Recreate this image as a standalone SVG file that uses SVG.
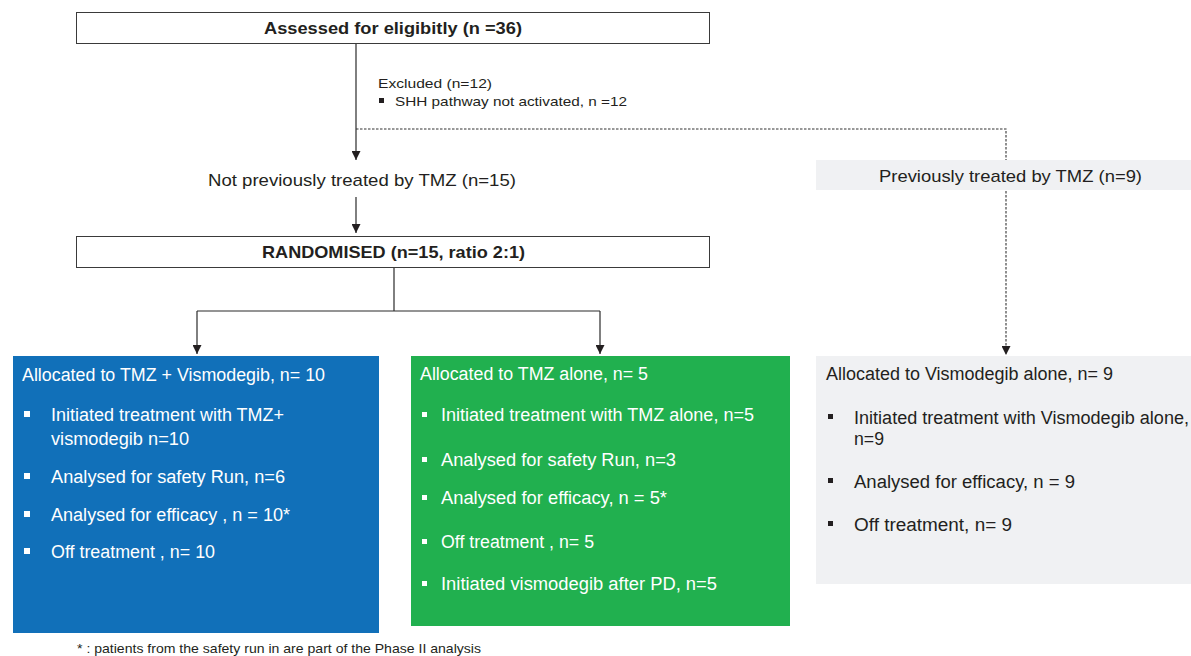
<svg xmlns="http://www.w3.org/2000/svg" width="1191" height="656" viewBox="0 0 1191 656">
<style>
text{font-family:"Liberation Sans",Arial,sans-serif;fill:#231f20}
.b{font-weight:bold;font-size:17px}
.m{font-size:17px}
.s{font-size:13.5px}
.w{fill:#ffffff;font-size:18px}
.g{font-size:18px}
.box{fill:#fff;stroke:#3a3a3a;stroke-width:1}
.ln{fill:none;stroke:#2a2a2a;stroke-width:1.2}
.dl{fill:none;stroke:#333;stroke-width:1.1;stroke-dasharray:2.5 1.5}
.bw{fill:#fff}
.bk{fill:#231f20}
</style>
<defs>
<marker id="ah" viewBox="0 0 10 10" refX="10" refY="5" markerWidth="9" markerHeight="9" markerUnits="userSpaceOnUse" orient="auto">
<path d="M0,0 L10,5 L0,10 z" fill="#231f20"/>
</marker>
</defs>
<g id="connectors">
<path class="ln" d="M356,43 V160" marker-end="url(#ah)"/>
<path class="dl" d="M356,129 H1006 V355" marker-end="url(#ah)"/>
<path class="ln" d="M356,197 V233" marker-end="url(#ah)"/>
<path class="ln" d="M394,267 V311"/>
<path class="ln" d="M197,311 H600"/>
<path class="ln" d="M197,311 V354" marker-end="url(#ah)"/>
<path class="ln" d="M600,311 V354" marker-end="url(#ah)"/>
</g>
<g id="assessed">
<rect class="box" x="76.5" y="12.5" width="633" height="31"/>
<text class="b" x="264" y="34" textLength="258" lengthAdjust="spacingAndGlyphs">Assessed for eligibitly (n =36)</text>
</g>
<g id="excluded">
<text class="s" x="378" y="88" textLength="114" lengthAdjust="spacingAndGlyphs">Excluded (n=12)</text>
<rect class="bk" x="379" y="98" width="5" height="5"/>
<text class="s" x="395" y="106" textLength="232" lengthAdjust="spacingAndGlyphs">SHH pathway not activated, n =12</text>
</g>
<g id="not-previously">
<text class="m" x="208" y="186" textLength="308" lengthAdjust="spacingAndGlyphs">Not previously treated by TMZ (n=15)</text>
</g>
<g id="previously">
<rect x="816" y="160" width="375" height="30" fill="#f0f1f3"/>
<text class="m" x="879" y="182" textLength="263" lengthAdjust="spacingAndGlyphs">Previously treated by TMZ (n=9)</text>
</g>
<g id="randomised">
<rect class="box" x="76.5" y="236.5" width="633" height="31"/>
<text class="b" x="262" y="258" textLength="263" lengthAdjust="spacingAndGlyphs">RANDOMISED (n=15, ratio 2:1)</text>
</g>
<g id="tmz-vismo">
<rect x="13" y="356" width="366" height="277" fill="#1170b9"/>
<text class="w" x="22" y="381" textLength="303" lengthAdjust="spacingAndGlyphs">Allocated to TMZ + Vismodegib, n= 10</text>
<rect class="bw" x="24" y="411" width="6" height="6"/>
<text class="w" x="51" y="421" textLength="233" lengthAdjust="spacingAndGlyphs">Initiated treatment with TMZ+</text>
<text class="w" x="51" y="445" textLength="138" lengthAdjust="spacingAndGlyphs">vismodegib n=10</text>
<rect class="bw" x="24" y="473" width="6" height="6"/>
<text class="w" x="51" y="483" textLength="234" lengthAdjust="spacingAndGlyphs">Analysed for safety Run, n=6</text>
<rect class="bw" x="24" y="511" width="6" height="6"/>
<text class="w" x="51" y="521" textLength="239" lengthAdjust="spacingAndGlyphs">Analysed for efficacy , n = 10*</text>
<rect class="bw" x="24" y="548" width="6" height="6"/>
<text class="w" x="51" y="558" textLength="164" lengthAdjust="spacingAndGlyphs">Off treatment , n= 10</text>
</g>
<g id="tmz-alone">
<rect x="411" y="356" width="379" height="270" fill="#21b04f"/>
<text class="w" x="420" y="380" textLength="228" lengthAdjust="spacingAndGlyphs">Allocated to TMZ alone, n= 5</text>
<rect class="bw" x="422" y="412" width="5" height="5"/>
<text class="w" x="441" y="421" textLength="313" lengthAdjust="spacingAndGlyphs">Initiated treatment with TMZ alone, n=5</text>
<rect class="bw" x="422" y="457" width="5" height="5"/>
<text class="w" x="441" y="466" textLength="235" lengthAdjust="spacingAndGlyphs">Analysed for safety Run, n=3</text>
<rect class="bw" x="422" y="495" width="5" height="5"/>
<text class="w" x="441" y="504" textLength="226" lengthAdjust="spacingAndGlyphs">Analysed for efficacy, n = 5*</text>
<rect class="bw" x="422" y="539" width="5" height="5"/>
<text class="w" x="441" y="548" textLength="153" lengthAdjust="spacingAndGlyphs">Off treatment , n= 5</text>
<rect class="bw" x="422" y="581" width="5" height="5"/>
<text class="w" x="441" y="590" textLength="276" lengthAdjust="spacingAndGlyphs">Initiated vismodegib after  PD, n=5</text>
</g>
<g id="vismo-alone">
<rect x="816" y="356" width="375" height="228" fill="#f0f1f3"/>
<text class="g" x="826" y="380" textLength="287" lengthAdjust="spacingAndGlyphs">Allocated to Vismodegib alone, n= 9</text>
<rect class="bk" x="828" y="414" width="5" height="5"/>
<text class="g" x="854" y="424" textLength="335" lengthAdjust="spacingAndGlyphs">Initiated treatment with Vismodegib alone,</text>
<text class="g" x="854" y="445" textLength="30" lengthAdjust="spacingAndGlyphs">n=9</text>
<rect class="bk" x="828" y="478" width="5" height="5"/>
<text class="g" x="854" y="488" textLength="221" lengthAdjust="spacingAndGlyphs">Analysed for efficacy, n = 9</text>
<rect class="bk" x="828" y="521" width="5" height="5"/>
<text class="g" x="854" y="531" textLength="158" lengthAdjust="spacingAndGlyphs">Off  treatment, n= 9</text>
</g>
<g id="footnote">
<text x="77" y="653" font-size="13" textLength="404" lengthAdjust="spacingAndGlyphs">* : patients from the safety run in are part of the Phase II analysis</text>
</g>
</svg>
